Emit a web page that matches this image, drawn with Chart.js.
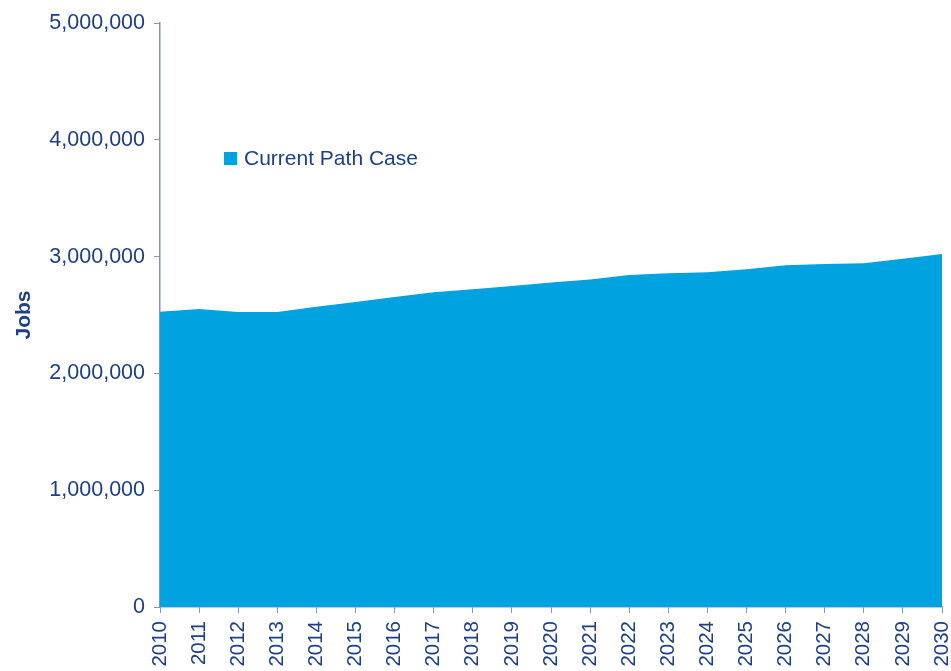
<!DOCTYPE html>
<html>
<head>
<meta charset="utf-8">
<script src="https://cdn.jsdelivr.net/npm/chart.js@4/dist/chart.umd.min.js"></script>
<style>
  html, body { margin: 0; padding: 0; background: #fff; }
  #wrap { width: 951px; height: 671px; }
</style>
</head>
<body>
<div id="wrap"><canvas id="jobs" width="951" height="671"></canvas></div>
<script>
// years on the x axis
const years = ['2010', '2011', '2012', '2013', '2014', '2015', '2016', '2017', '2018', '2019', '2020',
  '2021', '2022', '2023', '2024', '2025', '2026', '2027', '2028', '2029', '2030'];

// jobs
const currentPath = [2528000, 2551000, 2526000, 2526000, 2571000, 2611000, 2654000, 2695000, 2720000, 2749000, 2779000,
  2803000, 2843000, 2857000, 2866000, 2892000, 2926000, 2937000, 2943000, 2982000, 3023000];

const seriesName = 'Current Path Case';
const yMax = 5000000;
const yStep = 1000000;

const navy = '#1c3f86';
const axisGrey = '#8094bf';
const fillBlue = '#00a3e0';
const fontFam = '"Liberation Sans", Arial, sans-serif';

// legend sits inside the plot, so draw it by hand
const insideLegend = {
  id: 'insideLegend',
  afterDraw(chart) {
    const ctx = chart.ctx;
    chart.data.datasets.forEach((ds, i) => {
      const x = 224, y = 152 + i * 26;
      ctx.save();
      ctx.fillStyle = ds.backgroundColor;
      ctx.fillRect(x, y, 13, 13);
      ctx.fillStyle = navy;
      ctx.font = '21px ' + fontFam;
      ctx.textBaseline = 'middle';
      ctx.fillText(ds.label, x + 20, y + 7);
      ctx.restore();
    });
  }
};

const config = {
  type: 'line',
  data: {
    labels: years,
    datasets: [{
      label: seriesName,
      data: currentPath,
      fill: 'origin',
      backgroundColor: fillBlue,
      borderWidth: 0,
      pointRadius: 0,
      tension: 0,
    }],
  },
  options: {
    responsive: false,
    animation: false,
    layout: { padding: { top: 23, right: 9, left: 0, bottom: 0 } },
    plugins: {
      legend: { display: false },
      tooltip: { enabled: false },
    },
    scales: {
      x: {
        type: 'category',
        offset: false,
        grid: { drawOnChartArea: false, tickLength: 6, color: axisGrey },
        border: { color: axisGrey, width: 1.5 },
        ticks: {
          color: navy,
          font: { family: fontFam, size: 20.5 },
          minRotation: 90,
          maxRotation: 90,
          autoSkip: false,
          padding: 8,
        },
        afterFit(scale) {
          scale.height = 64;
          scale.paddingLeft = 0;
          scale.paddingRight = 0;
        },
      },
      y: {
        min: 0,
        max: yMax,
        grid: { drawOnChartArea: false, tickLength: 6, color: axisGrey },
        border: { color: axisGrey, width: 1.5 },
        ticks: {
          stepSize: yStep,
          color: navy,
          padding: 9,
          font: { family: fontFam, size: 21.5 },
          callback: (v) => v.toLocaleString('en-US'),
        },
        title: {
          display: true,
          text: 'Jobs',
          color: navy,
          padding: { top: 12, bottom: 0 },
          font: { family: fontFam, size: 21, weight: 'bold' },
        },
        afterFit(scale) { scale.width = 160; },
      },
    },
  },
  plugins: [insideLegend],
};

const ctx = document.getElementById('jobs');
window.jobsChart = new Chart(ctx, config);
</script>
</body>
</html>
